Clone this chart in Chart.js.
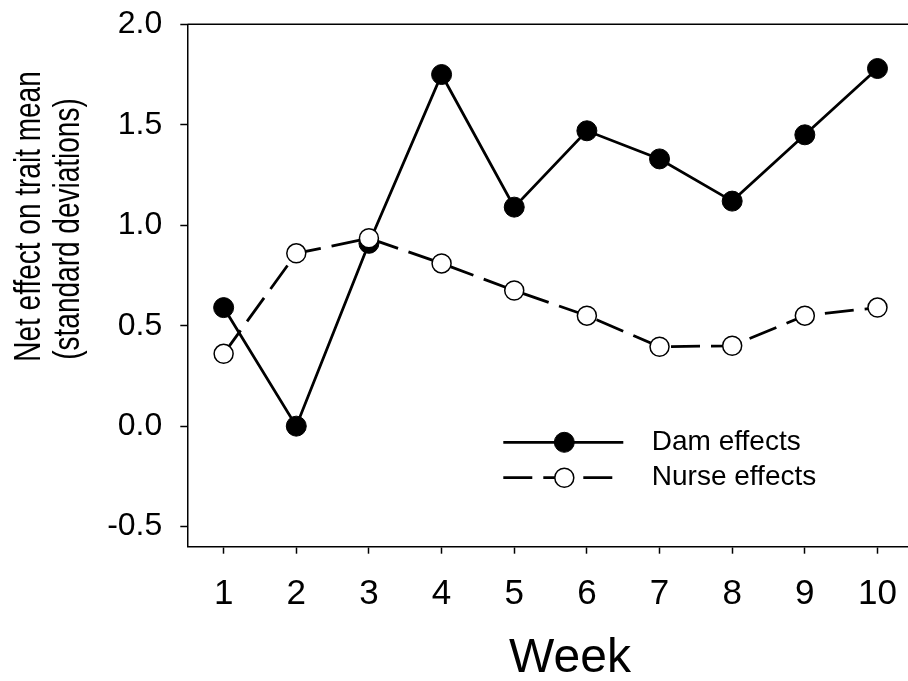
<!DOCTYPE html>
<html><head><meta charset="utf-8">
<script src="https://cdn.jsdelivr.net/npm/chart.js@4"></script>
<style>html,body{margin:0;padding:0;background:#fff;overflow:hidden}#wrap{width:908px;height:681px;overflow:hidden}</style>
</head><body><div id="wrap"><canvas id="c" width="908" height="681"></canvas></div>
<script>
const weeks = [1, 2, 3, 4, 5, 6, 7, 8, 9, 10];
const damEffects = [0.59, 0.00, 0.91, 1.75, 1.09, 1.47, 1.33, 1.12, 1.45, 1.78];
const nurseEffects = [0.36, 0.86, 0.935, 0.81, 0.675, 0.55, 0.395, 0.40, 0.55, 0.59];
const yTicks = [-0.5, 0.0, 0.5, 1.0, 1.5, 2.0];
const seriesNames = ['Dam effects', 'Nurse effects'];
const xTitle = 'Week';
const yTitle = ['Net effect on trait mean', '(standard deviations)'];

const FONT = '"Liberation Sans", Arial, sans-serif';

const frameTop = {
  id: 'frameTop',
  afterDraw(chart) {
    const {ctx, chartArea: ca} = chart;
    ctx.save();
    ctx.strokeStyle = '#000'; ctx.lineWidth = 1.5;
    ctx.beginPath(); ctx.moveTo(ca.left, ca.top); ctx.lineTo(ca.right + 2, ca.top); ctx.stroke();
    ctx.restore();
  }
};

const legendInside = {
  id: 'legendInside',
  afterDatasetsDraw(chart) {
    const {ctx, chartArea: ca} = chart;
    const x0 = ca.left + 316, x1 = ca.left + 436, xm = ca.left + 377, tx = ca.left + 464.5;
    const rows = [ca.top + 418, ca.top + 453.4];
    chart.data.datasets.forEach((ds, i) => {
      const y = rows[i];
      ctx.save();
      ctx.strokeStyle = ds.borderColor; ctx.lineWidth = ds.borderWidth;
      ctx.setLineDash(ds.borderDash || []);
      ctx.beginPath(); ctx.moveTo(x0, y); ctx.lineTo(x1, y); ctx.stroke();
      ctx.setLineDash([]);
      ctx.beginPath(); ctx.arc(xm, y, ds.pointRadius, 0, Math.PI * 2);
      ctx.fillStyle = ds.pointBackgroundColor; ctx.fill();
      ctx.lineWidth = ds.pointBorderWidth; ctx.strokeStyle = ds.pointBorderColor; ctx.stroke();
      ctx.fillStyle = '#000'; ctx.font = '28px ' + FONT;
      ctx.textAlign = 'left'; ctx.textBaseline = 'middle';
      ctx.fillText(ds.label, tx, y);
      ctx.restore();
    });
  }
};

const axisTitles = {
  id: 'axisTitles',
  afterDraw(chart) {
    const {ctx, chartArea: ca} = chart;
    ctx.save();
    ctx.fillStyle = '#000';
    ctx.textAlign = 'center'; ctx.textBaseline = 'middle';
    ctx.font = '48px ' + FONT;
    ctx.fillText(xTitle, ca.left + 382.7, ca.bottom + 112);
    ctx.restore();
    const lines = [{x: 40, y: 216.5}, {x: 79, y: 229}];
    yTitle.forEach((line, i) => {
      ctx.save();
      ctx.fillStyle = '#000';
      ctx.font = '28px ' + FONT;
      ctx.textAlign = 'center'; ctx.textBaseline = 'alphabetic';
      ctx.translate(lines[i].x, lines[i].y);
      ctx.rotate(-Math.PI / 2);
      ctx.scale(1, 1.3);
      ctx.fillText(line, 0, 0);
      ctx.restore();
    });
  }
};

new Chart(document.getElementById('c'), {
  type: 'line',
  data: {
    datasets: [
      {
        label: seriesNames[0],
        data: weeks.map((w, i) => ({x: w, y: damEffects[i]})),
        borderColor: '#000', borderWidth: 2.8,
        pointRadius: 10, pointBackgroundColor: '#000', pointBorderColor: '#000', pointBorderWidth: 1,
        fill: false, tension: 0, order: 2
      },
      {
        label: seriesNames[1],
        data: weeks.map((w, i) => ({x: w, y: nurseEffects[i]})),
        borderColor: '#000', borderWidth: 2.8, borderDash: [29, 11],
        pointRadius: 9.5, pointBackgroundColor: '#fff', pointBorderColor: '#000', pointBorderWidth: 1.5,
        fill: false, tension: 0, order: 1
      }
    ]
  },
  options: {
    responsive: false, maintainAspectRatio: false, animation: false,
    events: [],
    layout: {autoPadding: false, padding: {top: 24.3, right: 0, bottom: 0, left: 0}},
    plugins: {legend: {display: false}, tooltip: {enabled: false}},
    scales: {
      x: {
        type: 'linear', min: 0.5, max: 10.42,
        afterBuildTicks: s => { s.ticks = weeks.map(v => ({value: v})); },
        afterFit: s => { s.height = 134.3; s.paddingLeft = 0; s.paddingRight = 0; s.paddingTop = 0; s.paddingBottom = 0; },
        ticks: {color: '#000', font: {family: FONT, size: 35}, padding: 20, autoSkip: false, maxRotation: 0,
                callback: v => String(v)},
        grid: {display: true, drawOnChartArea: false, drawTicks: true, tickLength: 7, tickColor: '#000', tickWidth: 1.5},
        border: {display: true, color: '#000', width: 1.5},
        title: {display: false}
      },
      y: {
        type: 'linear', min: -0.6, max: 2.0,
        afterBuildTicks: s => { s.ticks = yTicks.map(v => ({value: v})); },
        afterFit: s => { s.width = 187.3; s.paddingLeft = 0; s.paddingRight = 0; s.paddingTop = 0; s.paddingBottom = 0; },
        ticks: {color: '#000', font: {family: FONT, size: 32}, padding: 18, autoSkip: false,
                callback: v => v.toFixed(1)},
        grid: {display: true, drawOnChartArea: false, drawTicks: true, tickLength: 7, tickColor: '#000', tickWidth: 1.5},
        border: {display: true, color: '#000', width: 1.5},
        title: {display: false}
      }
    }
  },
  plugins: [frameTop, legendInside, axisTitles]
});
</script>
</body></html>
